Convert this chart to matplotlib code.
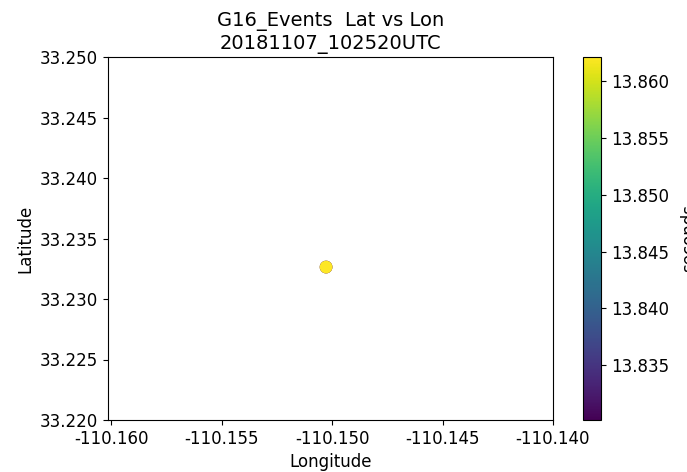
import matplotlib
matplotlib.use("Agg")
import matplotlib.pyplot as plt

# Event locations and times (seconds past the minute)
lon = [-110.15027, -110.15027]
lat = [33.23264, 33.23264]
event_time = [13.8302, 13.8621]

title = "G16_Events  Lat vs Lon\n20181107_102520UTC"

fig = plt.figure(figsize=(6.87, 4.72), dpi=100)
ax = fig.add_axes([108 / 687, 1 - 420 / 472, (553 - 108) / 687, (420 - 57) / 472])
cax = fig.add_axes([583 / 687, 1 - 420 / 472, 18 / 687, (420 - 57) / 472])

sc = ax.scatter(lon, lat, c=event_time, cmap="viridis", s=85, edgecolors="none")
ax.set_xlim(-110.16014, -110.140)
ax.set_ylim(33.220, 33.250)
ax.set_xticks([-110.160, -110.155, -110.150, -110.145, -110.140])
ax.set_yticks([33.220, 33.225, 33.230, 33.235, 33.240, 33.245, 33.250])
ax.xaxis.set_major_formatter(matplotlib.ticker.FormatStrFormatter("%.3f"))
ax.yaxis.set_major_formatter(matplotlib.ticker.FormatStrFormatter("%.3f"))
ax.tick_params(labelsize=12)
ax.set_xlabel("Longitude", fontsize=12)
ax.set_ylabel("Latitude", fontsize=12)
ax.set_title(title, fontsize=14)

cb = fig.colorbar(sc, cax=cax)
cb.set_ticks([13.835, 13.840, 13.845, 13.850, 13.855, 13.860])
cb.ax.yaxis.set_major_formatter(matplotlib.ticker.FormatStrFormatter("%.3f"))
cb.ax.tick_params(labelsize=12)
cb.set_label("seconds", fontsize=12, labelpad=8)

fig.savefig("out.png", dpi=100)
